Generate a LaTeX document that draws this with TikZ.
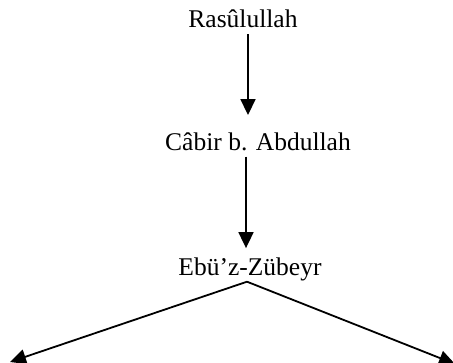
\documentclass[tikz,border=0pt]{standalone}
\usepackage{fontspec}
\setmainfont{Liberation Serif}
\usepackage{tikz}
\usetikzlibrary{arrows.meta, calc}

\begin{document}
\begin{tikzpicture}[
        x=1pt, y=-1pt,
        person/.style={inner sep=0pt, anchor=base, font=\fontsize{25.5}{30}\selectfont},
        arrow/.style={line width=1.8pt,-{Triangle[length=16pt,width=15pt]}}
    ]
        \useasboundingbox[fill=white] (0,0) rectangle (453,363);

        % Nodes
        \node[person] (rasul) at (243,28) {Rasûlullah};
        \node[person] (cabir) at (258,151) {Câbir b. Abdullah};
        \node[person] (ebu) at (250,276) {Ebü’z-Zübeyr};
        \coordinate (left) at (10,362);
        \coordinate (right) at (455,364);

        % Arrows
        \draw[arrow] ($(rasul.south)+(5,6)$) -- ($(cabir.north)+(-10,-18)$);
        \draw[arrow] ($(cabir.south)+(-12,5)$) -- ($(ebu.north)+(-4,-10)$);
        \draw[arrow] ($(ebu.south)+(-3,0)$) -- (left);
        \draw[arrow] ($(ebu.south)+(-3,0)$) -- (right);
    \end{tikzpicture}
\end{document}
